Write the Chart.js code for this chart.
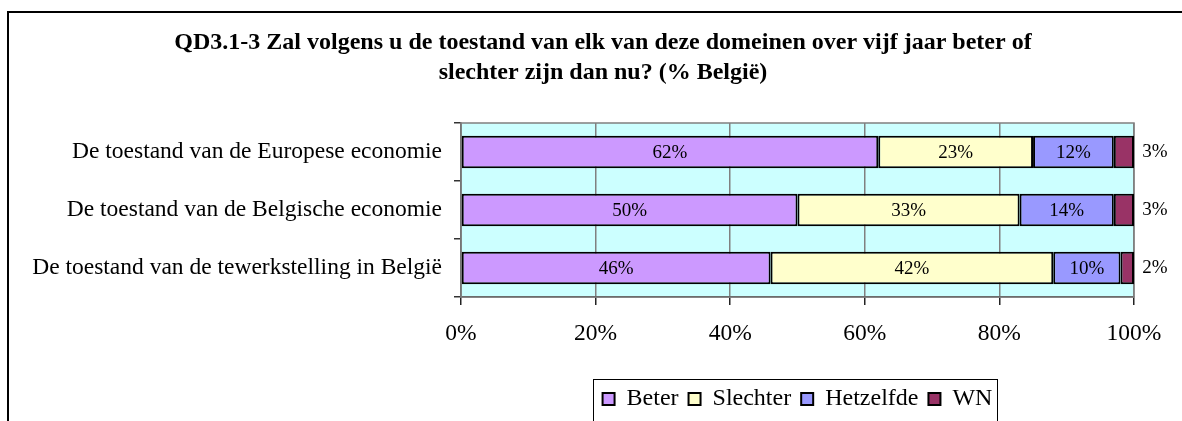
<!DOCTYPE html>
<html>
<head>
<meta charset="utf-8">
<script src="https://cdn.jsdelivr.net/npm/chart.js@4.4.1/dist/chart.umd.min.js"></script>
<style>
  html, body { margin: 0; padding: 0; background: #fff; overflow: hidden; }
  #wrap { width: 1182px; height: 421px; }
</style>
</head>
<body>
<div id="wrap"><canvas id="grafiek" width="1182" height="421"></canvas></div>
<script>
const categorieen = [
  "De toestand van de Europese economie",
  "De toestand van de Belgische economie",
  "De toestand van de tewerkstelling in België"
];
const reeksen = ["Beter", "Slechter", "Hetzelfde", "WN"];
const beter = [62, 50, 46];
const slechter = [23, 33, 42];
const hetzelfde = [12, 14, 10];
const wn = [3, 3, 2];
const tickLabels = ["0%", "20%", "40%", "60%", "80%", "100%"];
const titel = [
  "QD3.1-3 Zal volgens u de toestand van elk van deze domeinen over vijf jaar beter of",
  "slechter zijn dan nu? (% België)"
];
const kleuren = ["#cc99ff", "#ffffcc", "#9999ff", "#993366"];

const FONT = "'Liberation Serif', 'Times New Roman', serif";

// achtergrond, kader, labels en legendekader
const extra = {
  id: "extra",
  afterUpdate(chart) {
    const a = chart.chartArea;
    const lg = chart.legend;
    lg.left = a.left;
    lg.right = a.right;
    lg.width = a.right - a.left;
    lg.adjustHitBoxes();
    const t = chart.titleBlock;
    const midden = 603;
    const half = Math.min(midden, chart.width - midden);
    t.left = midden - half;
    t.right = midden + half;
    t.width = half * 2;
  },
  beforeDraw(chart) {
    const { ctx, chartArea: a } = chart;
    ctx.save();
    ctx.fillStyle = "#fff";
    ctx.fillRect(0, 0, chart.width, chart.height);
    ctx.strokeStyle = "#000";
    ctx.lineWidth = 2;
    ctx.beginPath();
    ctx.moveTo(8, chart.height + 5);
    ctx.lineTo(8, 12);
    ctx.lineTo(chart.width + 5, 12);
    ctx.stroke();
    ctx.fillStyle = "#ccffff";
    ctx.fillRect(a.left, a.top, a.right - a.left, a.bottom - a.top);
    ctx.restore();
  },
  beforeDatasetsDraw(chart) {
    const { ctx, chartArea: a } = chart;
    ctx.save();
    ctx.strokeStyle = "#808080";
    ctx.lineWidth = 1.5;
    ctx.strokeRect(a.left, a.top, a.right - a.left, a.bottom - a.top);
    ctx.restore();
  },
  afterDatasetsDraw(chart) {
    const { ctx } = chart;
    ctx.save();
    ctx.font = "19px " + FONT;
    ctx.fillStyle = "#000";
    ctx.textAlign = "center";
    ctx.textBaseline = "middle";
    chart.data.datasets.forEach((ds, i) => {
      chart.getDatasetMeta(i).data.forEach((bar, j) => {
        const tekst = ds.data[j] + "%";
        if (i === 3) ctx.fillText(tekst, chart.chartArea.right + 21, bar.y);
        else ctx.fillText(tekst, (bar.x + bar.base) / 2, bar.y + 1);
      });
    });
    ctx.restore();
  },
  afterDraw(chart) {
    const { ctx } = chart;
    const hb = chart.legend.legendHitBoxes;
    if (!hb || !hb.length) return;
    const l = Math.min(...hb.map(h => h.left)) - 10;
    const r = Math.max(...hb.map(h => h.left + h.width)) + 4;
    ctx.save();
    ctx.strokeStyle = "#000";
    ctx.lineWidth = 1;
    ctx.strokeRect(Math.round(l) + 0.5, 379.5, Math.round(r - l), 60);
    ctx.restore();
  }
};

const reeksData = [beter, slechter, hetzelfde, wn];

new Chart(document.getElementById("grafiek").getContext("2d"), {
  type: "bar",
  data: {
    labels: categorieen,
    datasets: reeksen.map((naam, i) => ({
      label: naam,
      data: reeksData[i],
      backgroundColor: kleuren[i],
      borderColor: "#000",
      borderWidth: 2,
      borderSkipped: false,
      categoryPercentage: 1,
      barPercentage: 0.56
    }))
  },
  options: {
    indexAxis: "y",
    responsive: false,
    animation: false,
    devicePixelRatio: 1,
    layout: { padding: { left: 0, right: 48, top: 0, bottom: 0 } },
    plugins: {
      title: {
        display: true,
        text: titel,
        color: "#000",
        font: { family: FONT, size: 24, weight: "bold", lineHeight: 1.25 },
        padding: { top: 28, bottom: 35 }
      },
      legend: {
        position: "bottom",
        labels: {
          color: "#000",
          font: { family: FONT, size: 24 },
          boxWidth: 12,
          boxHeight: 12,
          padding: 10
        }
      },
      tooltip: { enabled: false }
    },
    scales: {
      x: {
        stacked: true,
        min: 0,
        max: 100,
        afterFit(scale) { scale.height = 80; },
        ticks: {
          stepSize: 20,
          color: "#000",
          font: { family: FONT, size: 23.5 },
          padding: 15,
          maxRotation: 0,
          callback: (v, i) => tickLabels[i]
        },
        grid: { color: "#808080", lineWidth: 1.5, tickLength: 8, tickColor: "#222" },
        border: { color: "#333", width: 1.5 }
      },
      y: {
        stacked: true,
        afterFit(scale) { scale.width = 461; },
        ticks: {
          color: "#000",
          font: { family: FONT, size: 23.5 },
          padding: 12
        },
        grid: { drawOnChartArea: false, offset: true, tickLength: 7, tickColor: "#333", lineWidth: 1.5 },
        border: { color: "#555", width: 1.5 }
      }
    }
  },
  plugins: [extra]
});
</script>
</body>
</html>
